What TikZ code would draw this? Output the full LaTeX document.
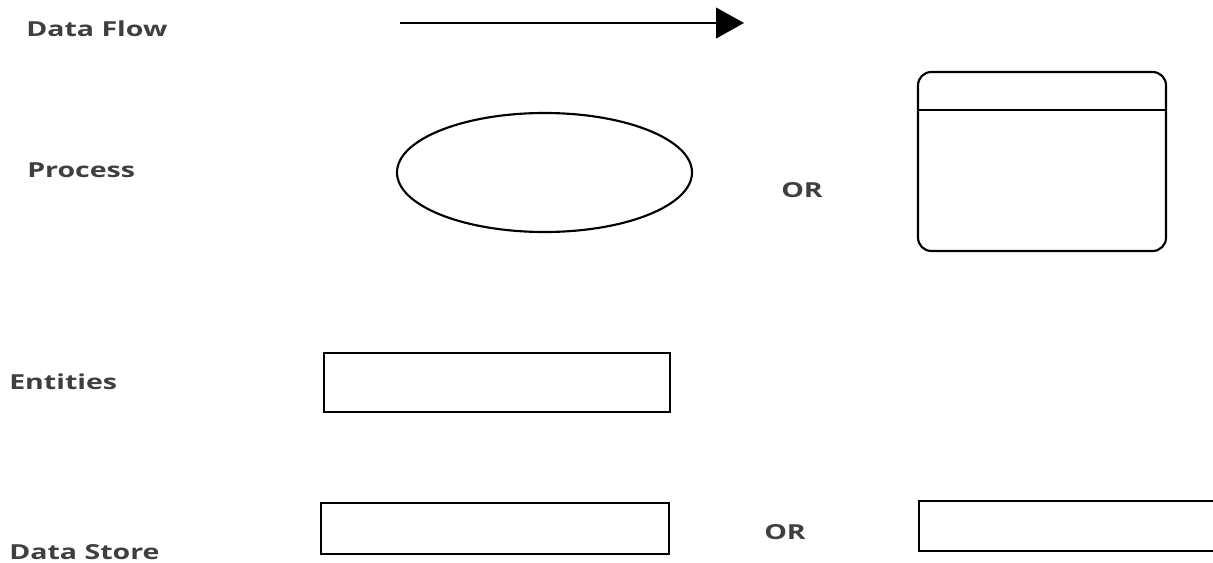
\documentclass[tikz,border=0pt]{standalone}
\usepackage{fontspec}
\setmainfont{Open Sans}
\newfontfamily\lblfont[FakeStretch=1.38]{Open Sans}
\usetikzlibrary{shapes.geometric,arrows.meta}
\definecolor{labelgray}{HTML}{3F3F3F}
\tikzset{
  lbl/.style={anchor=base west, inner sep=0pt, font=\lblfont\bfseries\fontsize{15.5}{18}\selectfont, text=labelgray},
  shp/.style={draw=black, line width=1.6pt},
}
\begin{document}
\begin{tikzpicture}[x=0.75pt,y=-0.75pt]
\useasboundingbox (0,0) rectangle (1213,563);
% labels
\node[lbl] (tflow) at (26,37) {Data Flow};
\node[lbl] (tproc) at (27,178) {Process};
\node[lbl] (tent) at (9,389) {Entities};
\node[lbl] (tstore) at (9,559) {Data Store};
\node[lbl] (or1) at (781,197) {OR};
\node[lbl] (or2) at (764,539) {OR};
% data flow arrow
\coordinate (fa) at (400,23);
\coordinate (fb) at (744,23);
\draw[line width=1.6pt, -{Triangle[length=21pt,width=23pt]}] (fa) -- (fb);
% process ellipse
\node[shp, ellipse, minimum width=295*0.75pt, minimum height=119*0.75pt, inner sep=0pt] (proc) at (544.5,172.5) {};
% process rounded rect
\draw[shp, rounded corners=10pt] (918,72) rectangle (1166,251);
\coordinate (hl) at (918,110);
\coordinate (hr) at (1166,110);
\draw[shp] (hl) -- (hr);
% entity
\draw[shp] (324,353) rectangle (670,412);
% data stores
\draw[line width=2.2pt] (321,503) rectangle (669,554);
\draw[line width=2.2pt] (1214,501) -- (919,501) -- (919,551) -- (1214,551);
\end{tikzpicture}
\end{document}
